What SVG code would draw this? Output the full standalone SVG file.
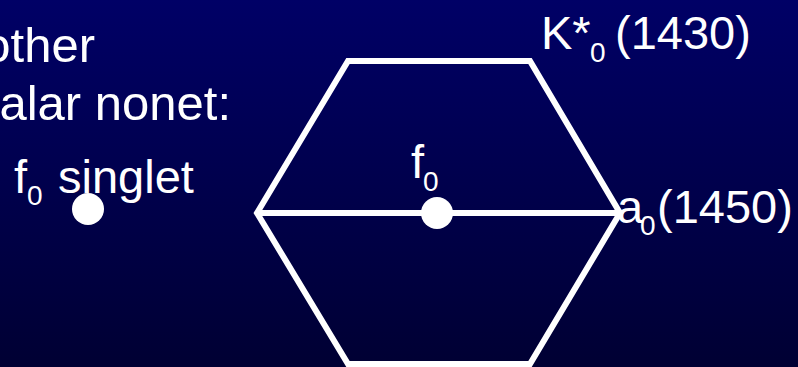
<svg xmlns="http://www.w3.org/2000/svg" width="798" height="367" viewBox="0 0 798 367">
<defs>
<linearGradient id="bg" x1="0" y1="0" x2="0" y2="1">
<stop offset="0" stop-color="#000066"/>
<stop offset="1" stop-color="#000033"/>
</linearGradient>
<style>
text{font-family:"Liberation Sans",Arial,sans-serif;fill:#fff;font-size:47px}
.cap{font-size:49px}
.sub{font-size:28px}
.edge{fill:none;stroke:#fff;stroke-width:6}
.dot{fill:#fff}
</style>
</defs>
<rect width="798" height="367" fill="url(#bg)"/>
<g id="caption">
<text class="cap" x="95" y="62" text-anchor="end">other</text>
<text class="cap" x="231" y="120" text-anchor="end">alar nonet:</text>
</g>
<g id="connectors">
<polygon class="edge" points="348,61 530,61 620,213 530,364 348,364 257,213"/>
<line class="edge" x1="257" y1="213" x2="620" y2="213"/>
</g>
<g id="singlet">
<text x="14" y="193">f</text>
<text class="sub" x="27" y="205">0</text>
<text x="58" y="193">singlet</text>
<circle class="dot" cx="88" cy="209" r="16"/>
</g>
<g id="f0">
<text x="411" y="178">f</text>
<text class="sub" x="423" y="191">0</text>
<circle class="dot" cx="437" cy="213" r="16"/>
</g>
<g id="k0">
<text x="541" y="49">K*</text>
<text class="sub" x="590" y="62">0</text>
<text x="615" y="49">(1430)</text>
</g>
<g id="a0">
<text x="617" y="223">a</text>
<text class="sub" x="640" y="235">0</text>
<text x="657" y="223">(1450)</text>
</g>
</svg>
